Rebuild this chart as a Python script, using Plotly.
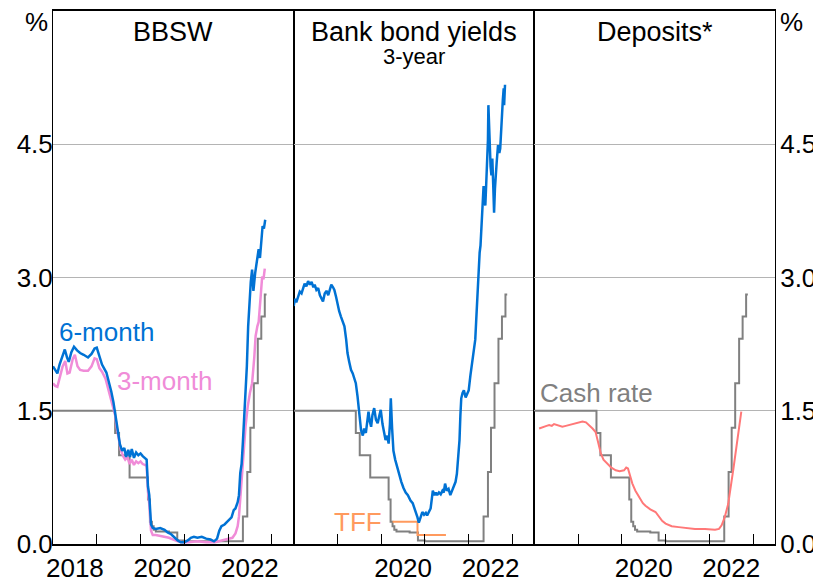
import plotly.graph_objects as go

# ---------------- data (decimal years, per cent) ----------------
bbsw6_t = [2018.00, 2018.05, 2018.10, 2018.15, 2018.20, 2018.27, 2018.32, 2018.36, 2018.42, 2018.48,
           2018.55, 2018.62, 2018.70, 2018.80, 2018.88, 2018.95, 2019.00, 2019.05, 2019.12, 2019.22,
           2019.28, 2019.33, 2019.38, 2019.41, 2019.45, 2019.48, 2019.53, 2019.58, 2019.63, 2019.67,
           2019.72, 2019.76, 2019.80, 2019.85, 2019.90, 2019.95, 2020.00, 2020.05, 2020.10, 2020.14,
           2020.17, 2020.20, 2020.24, 2020.28, 2020.35, 2020.45, 2020.55, 2020.62, 2020.70, 2020.78,
           2020.85, 2020.92, 2021.00, 2021.08, 2021.15, 2021.22, 2021.30, 2021.40, 2021.50, 2021.60,
           2021.68, 2021.75, 2021.80, 2021.85, 2021.92, 2022.00, 2022.08, 2022.13, 2022.17, 2022.22,
           2022.25, 2022.28, 2022.31, 2022.34, 2022.37, 2022.40, 2022.43, 2022.46, 2022.49, 2022.52,
           2022.55, 2022.58, 2022.62, 2022.66, 2022.70, 2022.73, 2022.76, 2022.79, 2022.82, 2022.85]
bbsw6_v = [2.00, 1.96, 1.92, 2.02, 2.10, 2.19, 2.10, 2.05, 2.16, 2.22,
           2.18, 2.15, 2.13, 2.10, 2.14, 2.20, 2.21, 2.12, 2.02, 1.93,
           1.82, 1.72, 1.60, 1.51, 1.38, 1.25, 1.12, 1.05, 1.08, 0.98,
           1.06, 0.98, 1.07, 0.97, 1.03, 1.00, 1.02, 0.99, 0.97, 0.95,
           0.65, 0.55, 0.22, 0.18, 0.17, 0.18, 0.16, 0.13, 0.11, 0.07,
           0.04, 0.02, 0.02, 0.04, 0.07, 0.08, 0.07, 0.08, 0.06, 0.05,
           0.03, 0.06, 0.15, 0.20, 0.22, 0.26, 0.30, 0.38, 0.40, 0.47,
           0.55, 0.80, 0.90, 1.15, 1.40, 1.70, 2.00, 2.45, 2.79, 2.95,
           3.09, 2.85, 3.05, 3.20, 3.32, 3.22, 3.45, 3.58, 3.55, 3.65]

bbsw3_t = [2018.00, 2018.05, 2018.10, 2018.15, 2018.22, 2018.28, 2018.33, 2018.38, 2018.45, 2018.50,
           2018.56, 2018.62, 2018.70, 2018.80, 2018.88, 2018.95, 2019.00, 2019.06, 2019.12, 2019.20,
           2019.28, 2019.33, 2019.38, 2019.42, 2019.46, 2019.50, 2019.55, 2019.60, 2019.65, 2019.70,
           2019.75, 2019.80, 2019.85, 2019.90, 2019.95, 2020.00, 2020.05, 2020.10, 2020.14, 2020.17,
           2020.20, 2020.24, 2020.28, 2020.35, 2020.45, 2020.55, 2020.65, 2020.75, 2020.85, 2020.95,
           2021.10, 2021.30, 2021.50, 2021.70, 2021.85, 2022.00, 2022.10, 2022.17, 2022.22, 2022.25,
           2022.29, 2022.32, 2022.36, 2022.40, 2022.45, 2022.50, 2022.55, 2022.60, 2022.63, 2022.67,
           2022.70, 2022.74, 2022.78, 2022.81, 2022.84]
bbsw3_v = [1.81, 1.78, 1.77, 1.86, 2.00, 2.06, 1.92, 1.93, 2.08, 2.13,
           2.00, 1.96, 1.95, 1.95, 2.00, 2.09, 2.08, 1.98, 1.94, 1.86,
           1.72, 1.63, 1.53, 1.45, 1.30, 1.18, 1.06, 0.99, 0.95, 0.98,
           0.90, 0.95, 0.89, 0.93, 0.91, 0.93, 0.90, 0.89, 0.88, 0.60,
           0.45, 0.15, 0.10, 0.10, 0.09, 0.08, 0.07, 0.05, 0.03, 0.02,
           0.02, 0.03, 0.02, 0.02, 0.04, 0.06, 0.07, 0.12, 0.20, 0.31,
           0.55, 0.80, 1.05, 1.32, 1.55, 1.70, 1.81, 2.10, 2.34, 2.45,
           2.50, 2.75, 3.01, 2.98, 3.10]

cash_t = [2018.00, 2019.42, 2019.51, 2019.75, 2020.17, 2020.215, 2020.26, 2020.30, 2020.35,
          2020.50, 2020.65, 2020.84, 2021.00, 2021.50, 2022.00, 2022.34, 2022.44, 2022.51,
          2022.59, 2022.68, 2022.76, 2022.84, 2022.88]
cash_v = [1.50, 1.25, 1.00, 0.75, 0.50, 0.25, 0.20, 0.16, 0.14,
          0.14, 0.13, 0.04, 0.03, 0.03, 0.03, 0.31, 0.81, 1.31,
          1.81, 2.31, 2.56, 2.81, 2.81]

bond_t = [2018.00, 2018.03, 2018.06, 2018.10, 2018.14, 2018.18, 2018.21, 2018.25, 2018.29, 2018.33,
          2018.37, 2018.41, 2018.45, 2018.48, 2018.52, 2018.56, 2018.60, 2018.64, 2018.67, 2018.71,
          2018.75, 2018.79, 2018.83, 2018.86, 2018.90, 2018.93, 2018.97, 2019.00, 2019.04, 2019.08,
          2019.12, 2019.16, 2019.20, 2019.23, 2019.27, 2019.31, 2019.35, 2019.39, 2019.42, 2019.46,
          2019.50, 2019.54, 2019.58, 2019.61, 2019.65, 2019.68, 2019.71, 2019.74, 2019.77, 2019.80,
          2019.84, 2019.88, 2019.92, 2019.96, 2019.99, 2020.03, 2020.07, 2020.10, 2020.14, 2020.17,
          2020.20, 2020.22, 2020.25, 2020.28, 2020.32, 2020.36, 2020.41, 2020.46, 2020.51, 2020.56,
          2020.61, 2020.67, 2020.72, 2020.76, 2020.79, 2020.83, 2020.86, 2020.90, 2020.94, 2020.98,
          2021.02, 2021.05, 2021.09, 2021.13, 2021.16, 2021.18, 2021.22, 2021.25, 2021.28, 2021.32,
          2021.36, 2021.40, 2021.43, 2021.46, 2021.50, 2021.54, 2021.58, 2021.62, 2021.66, 2021.70,
          2021.73, 2021.76, 2021.79, 2021.81, 2021.83, 2021.86, 2021.89, 2021.93, 2021.97, 2022.00,
          2022.04, 2022.08, 2022.12, 2022.15, 2022.17, 2022.19, 2022.21, 2022.23, 2022.25, 2022.27,
          2022.30, 2022.32, 2022.34, 2022.36, 2022.38, 2022.40, 2022.42, 2022.44, 2022.45, 2022.47,
          2022.48, 2022.50, 2022.52, 2022.54, 2022.56, 2022.58, 2022.60, 2022.62, 2022.64, 2022.67,
          2022.70, 2022.72, 2022.74, 2022.76, 2022.78, 2022.80, 2022.81, 2022.83]
bond_v = [2.68, 2.76, 2.72, 2.79, 2.84, 2.82, 2.88, 2.93, 2.90, 2.96,
          2.92, 2.95, 2.89, 2.92, 2.86, 2.88, 2.80, 2.76, 2.73, 2.82,
          2.85, 2.80, 2.88, 2.92, 2.89, 2.86, 2.78, 2.70, 2.62, 2.56,
          2.50, 2.45, 2.30, 2.15, 2.05, 1.96, 1.92, 1.85, 1.81, 1.66,
          1.45, 1.28, 1.22, 1.30, 1.25, 1.40, 1.49, 1.38, 1.32, 1.45,
          1.53, 1.40, 1.36, 1.45, 1.51, 1.35, 1.25, 1.17, 1.22, 1.13,
          1.35, 1.64, 1.30, 1.05, 0.95, 0.88, 0.77, 0.70, 0.63, 0.58,
          0.55, 0.49, 0.46, 0.40, 0.38, 0.30, 0.24, 0.30, 0.36, 0.33,
          0.35, 0.32, 0.36, 0.40, 0.52, 0.60, 0.55, 0.58, 0.55, 0.58,
          0.56, 0.60, 0.58, 0.68, 0.60, 0.62, 0.55, 0.60, 0.64, 0.70,
          0.79, 0.95, 1.17, 1.45, 1.64, 1.70, 1.73, 1.65, 1.70, 1.73,
          1.90, 2.07, 2.20, 2.30, 2.50, 2.71, 3.00, 3.20, 3.28, 3.36,
          3.62, 3.80, 4.03, 3.85, 3.81, 4.05, 4.30, 4.55, 4.94, 4.60,
          4.34, 4.25, 4.15, 4.34, 4.05, 3.73, 4.00, 4.22, 4.30, 4.49,
          4.40, 4.45, 4.70, 4.90, 5.00, 5.13, 4.94, 5.17]

tff_t = [2020.26, 2020.83, 2021.48]
tff_v = [0.25, 0.10, 0.10]

dep_t = [2018.11, 2018.20, 2018.28, 2018.34, 2018.40, 2018.45, 2018.55, 2018.64, 2018.72, 2018.80,
         2018.90, 2019.00, 2019.10, 2019.18, 2019.25, 2019.33, 2019.40, 2019.46, 2019.52, 2019.58,
         2019.67, 2019.76, 2019.86, 2019.95, 2020.05, 2020.10, 2020.14, 2020.18, 2020.24, 2020.31,
         2020.40, 2020.48, 2020.54, 2020.65, 2020.77, 2020.85, 2020.92, 2021.00, 2021.14, 2021.30,
         2021.50, 2021.67, 2021.90, 2022.13, 2022.22, 2022.28, 2022.35, 2022.43, 2022.55, 2022.65,
         2022.73]
dep_v = [1.30, 1.32, 1.33, 1.34, 1.33, 1.35, 1.33, 1.32, 1.33, 1.34,
         1.35, 1.36, 1.38, 1.37, 1.34, 1.30, 1.26, 1.15, 1.02, 0.95,
         0.90, 0.86, 0.83, 0.82, 0.83, 0.86, 0.85, 0.78, 0.68, 0.60,
         0.52, 0.46, 0.43, 0.39, 0.36, 0.31, 0.26, 0.23, 0.20, 0.19,
         0.18, 0.17, 0.17, 0.16, 0.17, 0.21, 0.30, 0.45, 0.85, 1.20,
         1.49]

panel_titles = ["BBSW", "Bank bond yields", "Deposits*"]
y_ticks = [0, 1.5, 3.0, 4.5]
y_ticktext = ["0.0", "1.5", "3.0", "4.5"]
year_label_pos = [[2018.5, 2020.5, 2022.5], [2020.5, 2022.5], [2020.5, 2022.5]]
year_label_txt = [["2018", "2020", "2022"], ["2020", "2022"], ["2020", "2022"]]
year_ticks = [2019, 2020, 2021, 2022, 2023]

# ---------------- styling ----------------
FONT = "Liberation Sans, Arial, sans-serif"
FS = 26
BLUE = "#0072D4"
PINK = "#F08CD8"
GREY = "#808080"
ORANGE = "#FF9A5E"
SALMON = "#FF7878"

fig = go.Figure()

def line(x, y, color, xa, ya, width=2.2, shape="linear"):
    fig.add_trace(go.Scatter(x=x, y=y, mode="lines", xaxis=xa, yaxis=ya,
                             line=dict(color=color, width=width, shape=shape),
                             hoverinfo="skip", showlegend=False))

# panel 1
line(cash_t, cash_v, GREY, "x", "y", 2, "hv")
line(bbsw3_t, bbsw3_v, PINK, "x", "y", 2.5)
line(bbsw6_t, bbsw6_v, BLUE, "x", "y", 2.5)
# panel 2
line(cash_t, cash_v, GREY, "x2", "y2", 2, "hv")
line(tff_t, tff_v, ORANGE, "x2", "y2", 2, "hv")
line(bond_t, bond_v, BLUE, "x2", "y2", 2.5)
# panel 3
line(cash_t, cash_v, GREY, "x3", "y3", 2, "hv")
line(dep_t, dep_v, SALMON, "x3", "y3", 2)

domains = [[0, 1/3], [1/3, 2/3], [2/3, 1]]
xr = [2018.0, 2023.5]
for i in range(3):
    sfx = "" if i == 0 else str(i + 1)
    fig.layout["xaxis" + sfx] = dict(
        domain=domains[i], anchor="y" + sfx, range=xr, automargin=False,
        tickmode="array", tickvals=year_label_pos[i], ticktext=year_label_txt[i],
        ticks="", showgrid=False, zeroline=False,
        showline=True, linecolor="black", linewidth=1.5, mirror=True,
        tickfont=dict(family=FONT, size=FS, color="black"),
        minor=dict(tickmode="array", tickvals=year_ticks, ticks="inside",
                   ticklen=10, tickwidth=1, tickcolor="black", showgrid=False),
    )
    fig.layout["yaxis" + sfx] = dict(
        domain=[0, 1], anchor="x" + sfx, range=[0, 6], automargin=False,
        tickmode="array", tickvals=y_ticks, ticktext=y_ticktext,
        showticklabels=(i != 1), side="right" if i == 2 else "left",
        ticklabelstandoff=(-6 if i == 0 else -1),
        ticks="", showgrid=True, gridcolor="#B4B4B4", gridwidth=1, zeroline=False,
        showline=True, linecolor="black", linewidth=1, mirror=True,
        tickfont=dict(family=FONT, size=FS, color="black"),
    )

ann = []
# panel titles
for i, t in enumerate(panel_titles):
    ann.append(dict(x=(domains[i][0] + domains[i][1]) / 2, y=0.961, xref="paper", yref="paper",
                    text=t, showarrow=False, xanchor="center", yanchor="middle",
                    font=dict(family=FONT, size=27, color="black")))
ann.append(dict(x=0.5, y=0.915, xref="paper", yref="paper", text="3-year", showarrow=False,
                xanchor="center", yanchor="middle", font=dict(family=FONT, size=22, color="black")))
# unit labels
ann.append(dict(x=0, y=0.979, xref="paper", yref="paper", text="%", showarrow=False,
                xanchor="right", yanchor="middle", xshift=-3, font=dict(family=FONT, size=FS, color="black")))
ann.append(dict(x=1, y=0.979, xref="paper", yref="paper", text="%", showarrow=False,
                xanchor="left", yanchor="middle", xshift=3, font=dict(family=FONT, size=FS, color="black")))
# series labels
ann.append(dict(x=2018.1, y=2.39, xref="x", yref="y", text="6-month", showarrow=False,
                xanchor="left", yanchor="middle", font=dict(family=FONT, size=FS, color=BLUE)))
ann.append(dict(x=2019.42, y=1.83, xref="x", yref="y", text="3-month", showarrow=False,
                xanchor="left", yanchor="middle", font=dict(family=FONT, size=FS, color=PINK)))
ann.append(dict(x=2020.06, y=0.25, xref="x2", yref="y2", text="TFF", showarrow=False,
                xanchor="right", yanchor="middle", font=dict(family=FONT, size=FS, color=ORANGE)))
ann.append(dict(x=2018.08, y=1.70, xref="x3", yref="y3", text="Cash rate", showarrow=False,
                xanchor="left", yanchor="middle", font=dict(family=FONT, size=FS, color=GREY)))

# the page places the figure 8px in from the top-left corner, so the figure is
# sized to fill the remaining 813x575 of the 821x583 window
fig.update_layout(
    width=813, height=575,
    margin=dict(l=45, r=46, t=3, b=39, pad=0, autoexpand=False),
    paper_bgcolor="white", plot_bgcolor="white",
    annotations=ann, showlegend=False,
    font=dict(family=FONT, size=FS, color="black"),
)

fig.write_html("out.html")
